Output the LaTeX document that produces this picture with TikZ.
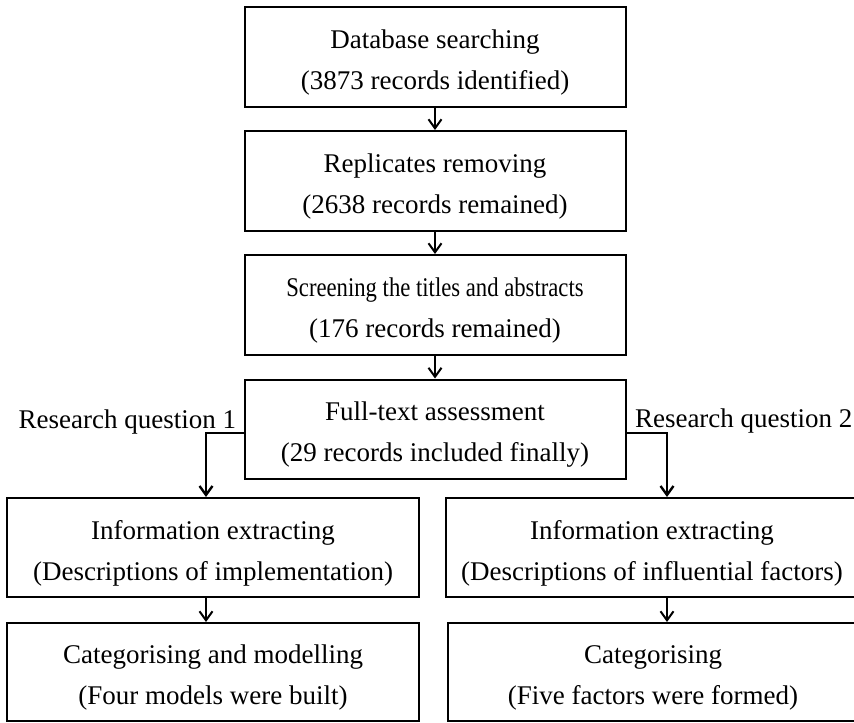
\documentclass[tikz,border=0pt]{standalone}
\usepackage{fontspec}
\setmainfont{Liberation Serif}
\usetikzlibrary{arrows.meta}

\newcommand{\narrowtext}[1]{\scalebox{0.84}[1]{#1}}
\newcommand{\lowtext}{\rule{0pt}{15pt}}

\begin{document}
\begin{tikzpicture}[x=0.5pt,y=-0.5pt,->,>={Straight Barb[length=4.5pt,width=6.5pt]},line width=1pt,node distance=62pt,
  stage/.style={draw,line width=1pt,minimum width=190.5pt,minimum height=50pt,align=center,inner sep=0pt,
    font=\fontsize{13.5pt}{20.5pt}\selectfont},
  wide stage/.style={stage,minimum width=206pt,minimum height=49.5pt},
  question/.style={inner sep=0pt,font=\fontsize{13.5pt}{16pt}\selectfont}]

  \useasboundingbox (0,0) rectangle (854,722);
  \clip (0,0) rectangle (854,722);

  \node[stage] (db) at (435,57) {\lowtext Database searching\\(3873 records identified)};
  \node[stage] (rep) [below of=db] {\lowtext Replicates removing\\(2638 records remained)};
  \node[stage] (scr) [below of=rep] {\lowtext\narrowtext{Screening the titles and abstracts}\\(176 records remained)};
  \node[stage,minimum height=49.5pt] (fta) [below of=scr] {\lowtext Full-text assessment\\(29 records included finally)};

  \node[wide stage] (info1) at (213,547.5) {\lowtext Information extracting\\(Descriptions of implementation)};
  \node[wide stage] (info2) at (652,547.5) {\lowtext Information extracting\\(Descriptions of influential factors)};
  \node[wide stage,minimum height=49pt] (cat1) at (213,672) {\lowtext Categorising and modelling\\(Four models were built)};
  \node[wide stage,minimum height=49pt,minimum width=205pt] (cat2) at (653,672) {\lowtext Categorising\\(Five factors were formed)};

  \coordinate (rq1) at (206,433);
  \coordinate (rq2) at (667,433);
  \node[question,anchor=base east] (q1) at (237,428) {Research question 1};
  \node[question,anchor=base west] (q2) at (634,427) {Research question 2};

  \path (db) edge (rep)
    (rep) edge (scr)
    (scr) edge (fta);
  \draw[line width=1.2pt] (fta.west |- rq1) -- (rq1) -- (rq1 |- info1.north);
  \draw[line width=1.2pt] (fta.east |- rq2) -- (rq2) -- (rq2 |- info2.north);
  \draw (rq1 |- info1.south) -- (rq1 |- cat1.north);
  \draw (rq2 |- info2.south) -- (rq2 |- cat2.north);

\end{tikzpicture}
\end{document}
